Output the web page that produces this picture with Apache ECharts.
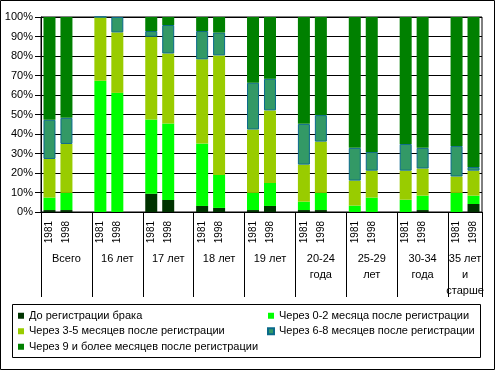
<!DOCTYPE html>
<html><head><meta charset="utf-8">
<script src="https://cdn.jsdelivr.net/npm/echarts@6/dist/echarts.min.js"></script>
<style>html,body{margin:0;padding:0;background:#fff}#c{width:495px;height:370px}</style>
</head><body><div id="c"></div>
<script>
const groups = ['Всего','16 лет','17 лет','18 лет','19 лет','20-24\nгода','25-29\nлет','30-34\nгода','35 лет\nи\nстарше'];
const years = ['1981','1998'];
const seriesNames = ['До регистрации брака','Через 0-2 месяца после регистрации','Через 3-5 месяцев после регистрации','Через 6-8 месяцев после регистрации','Через 9 и более месяцев после регистрации'];
const beforeReg = [1,1, 0,0, 9.4,6.2, 3.1,2.1, 1,3.1, 1,1, 0,0, 0,1, 0,4.1];
const m0to2 = [6.4,8.8, 67.3,61.1, 38,39.2, 32,16.9, 8.8,11.8, 4.3,8.8, 3.3,7.4, 6.3,7.4, 9.8,4.3];
const m3to5 = [19.8,25.1, 32.7,31, 42.5,35.9, 43.2,61.3, 32.5,37.2, 19,26.3, 12.8,13.8, 14.9,13.9, 8.4,12.8];
const m6to8 = [20.1,13.4, 0,7.9, 2.9,14.6, 14.5,11.7, 24,16.2, 20.9,13.6, 16.8,9.6, 13.7,10.6, 15.7,1.9];
const m9plus = [52.7,51.7, 0,0, 7.2,4.1, 7.2,8, 33.7,31.7, 54.8,50.3, 67.1,69.2, 65.1,67.1, 66.1,76.9];
const yTicks = [0,10,20,30,40,50,60,70,80,90,100];

const colors = ['#003300','#00ff00','#99cc00','#339966','#008000'];
const font = 'Arial, "Liberation Sans", sans-serif';

// build category slots: 1981, 1998, blank per group (no blank after last)
const cats = [];
groups.forEach((g, i) => { years.forEach(y => cats.push(y)); if (i < groups.length - 1) cats.push(''); });
function expand(arr) {
  const out = [];
  groups.forEach((g, i) => { out.push(arr[2*i], arr[2*i+1]); if (i < groups.length - 1) out.push(null); });
  return out;
}
const nSlots = cats.length;
const groupStarts = groups.map((g, i) => i * 3);
const groupCenters = groups.map((g, i) => i < groups.length - 1 ? i * 3 + 1.5 : i * 3 + 1);
const groupTicks = groupStarts.concat([nSlots]);

const raw = [beforeReg, m0to2, m3to5, m6to8, m9plus];
const series = raw.map((arr, k) => ({
  name: seriesNames[k], type: 'bar', stack: 'all', xAxisIndex: 0, barWidth: 12,
  data: expand(arr),
  itemStyle: k === 3 ? {color: colors[k], borderColor: '#0a6a8a', borderWidth: 1} : {color: colors[k]}
}));

const chart = echarts.init(document.getElementById('c'), null, {renderer: 'canvas'});
chart.setOption({
  animation: false,
  textStyle: {fontFamily: font},
  grid: {left: 41, right: 13, top: 17, bottom: 158, show: true, borderColor: '#000', borderWidth: 1},
  xAxis: [{
    type: 'category', data: cats, boundaryGap: true,
    axisLine: {lineStyle: {color: '#000', width: 1}},
    axisTick: {interval: 0, length: 31, lineStyle: {color: '#000'}},
    axisLabel: {interval: 0, rotate: 90, margin: 9, fontSize: 10, color: '#000', fontFamily: font}
  }, {
    type: 'value', position: 'bottom', min: 0, max: nSlots,
    axisLine: {show: false}, splitLine: {show: false},
    axisTick: {show: true, customValues: groupTicks, length: 85, lineStyle: {color: '#000'}},
    axisLabel: {customValues: groupCenters, margin: 39, fontSize: 11, lineHeight: 16, color: '#000', fontFamily: font,
      formatter: v => { const i = groupCenters.findIndex(c => Math.abs(c - v) < 0.01); return i >= 0 ? groups[i] : ''; }}
  }],
  yAxis: {
    type: 'value', min: yTicks[0], max: yTicks[yTicks.length-1], interval: 10,
    axisLine: {show: true, lineStyle: {color: '#000'}},
    axisTick: {show: true, length: 6, lineStyle: {color: '#000'}},
    splitLine: {lineStyle: {color: '#000', width: 1}},
    axisLabel: {formatter: '{value}%', fontSize: 11, color: '#000', margin: 8, fontFamily: font}
  },
  legend: [{
    data: [seriesNames[0], seriesNames[2], seriesNames[4]], orient: 'vertical', left: 18, top: 309, padding: 0,
    itemWidth: 6, itemHeight: 6, itemGap: 2, icon: 'rect',
    textStyle: {fontSize: 11, color: '#000', lineHeight: 13.5, fontFamily: font}
  }, {
    data: [seriesNames[1], seriesNames[3]], orient: 'vertical', left: 267, top: 309, padding: 0,
    itemWidth: 6, itemHeight: 6, itemGap: 2, icon: 'rect',
    textStyle: {fontSize: 11, color: '#000', lineHeight: 13.5, fontFamily: font}
  }],
  graphic: [
    {type: 'rect', shape: {x: 0.5, y: 0.5, width: 494, height: 369}, style: {fill: 'none', stroke: '#000', lineWidth: 1}, silent: true},
    {type: 'rect', shape: {x: 12.5, y: 304.5, width: 468, height: 53}, style: {fill: 'none', stroke: '#000', lineWidth: 1}, silent: true}
  ],
  series: series
});
</script></body></html>
